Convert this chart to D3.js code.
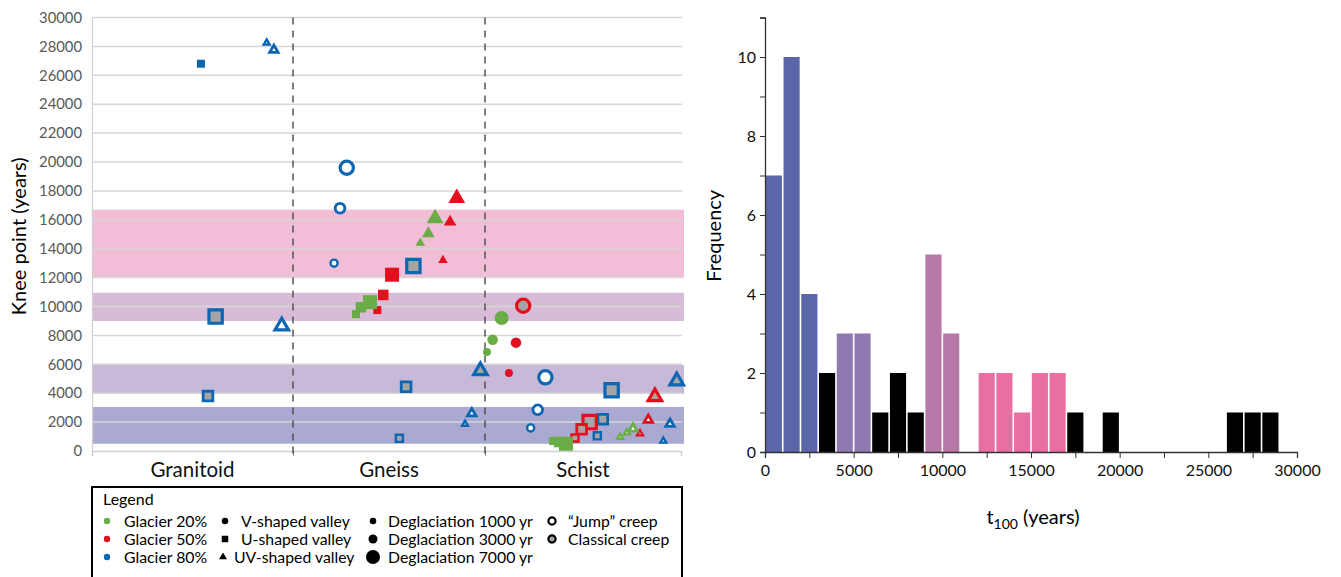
<!DOCTYPE html>
<html>
<head>
<meta charset="utf-8">
<script src="https://cdn.jsdelivr.net/npm/d3@7/dist/d3.min.js"></script>
<style>
  html, body { margin: 0; padding: 0; background: #fff; }
  svg { display: block; font-family: Lato, "Open Sans", sans-serif; }
</style>
</head>
<body>
<svg id="fig" width="1341" height="577"></svg>
<script>
// ---------- Knee-point scatter (left panel) ----------
const rockTypes = ["Granitoid", "Gneiss", "Schist"];
const kneeTicks = d3.range(0, 30001, 2000);

// Reference t100 ranges shaded behind the scatter: [from, to, class]
const t100Bands = [
  [12000, 16700, "c4"],
  [9000, 10950, "c3"],
  [3950, 5950, "c2"],
  [500, 3050, "c1"]
];

// Each run: [position along rock axis, knee point (yr), glacier %, valley, deglaciation (yr), creep]
const granitoidRuns = [
  [0.542, 26800, 80, "U", 1000, "none"],
  [0.869, 28250, 80, "UV", 1000, "jump"],
  [0.905, 27750, 80, "UV", 3000, "jump"],
  [0.615, 9300, 80, "U", 7000, "classical"],
  [0.577, 3800, 80, "U", 3000, "classical"],
  [0.944, 8650, 80, "UV", 7000, "jump"]
];
const gneissRuns = [
  [1.280, 19600, 80, "V", 7000, "jump"],
  [1.245, 16800, 80, "V", 3000, "jump"],
  [1.214, 13000, 80, "V", 1000, "jump"],
  [1.627, 12800, 80, "U", 7000, "classical"],
  [1.516, 12200, 50, "U", 7000, "none"],
  [1.470, 10800, 50, "U", 3000, "none"],
  [1.439, 9750, 50, "U", 1000, "none"],
  [1.401, 10300, 20, "U", 7000, "none"],
  [1.354, 9950, 20, "U", 3000, "none"],
  [1.328, 9470, 20, "U", 1000, "none"],
  [1.740, 16100, 20, "UV", 7000, "none"],
  [1.705, 15050, 20, "UV", 3000, "none"],
  [1.663, 14400, 20, "UV", 1000, "none"],
  [1.853, 17500, 50, "UV", 7000, "none"],
  [1.818, 15850, 50, "UV", 3000, "none"],
  [1.781, 13200, 50, "UV", 1000, "none"],
  [1.589, 4450, 80, "U", 3000, "classical"],
  [1.554, 880, 80, "U", 1000, "classical"],
  [1.976, 5550, 80, "UV", 7000, "classical"],
  [1.931, 2600, 80, "UV", 3000, "jump"],
  [1.896, 1870, 80, "UV", 1000, "jump"]
];
const schistRuns = [
  [2.195, 10050, 50, "V", 7000, "classical"],
  [2.085, 9200, 20, "V", 7000, "none"],
  [2.039, 7700, 20, "V", 3000, "none"],
  [2.010, 6850, 20, "V", 1000, "none"],
  [2.158, 7500, 50, "V", 3000, "none"],
  [2.122, 5400, 50, "V", 1000, "none"],
  [2.308, 5100, 80, "V", 7000, "jump"],
  [2.269, 2850, 80, "V", 3000, "jump"],
  [2.233, 1600, 80, "V", 1000, "jump"],
  [2.646, 4200, 80, "U", 7000, "classical"],
  [2.601, 2200, 80, "U", 3000, "classical"],
  [2.573, 1050, 80, "U", 1000, "classical"],
  [2.534, 2000, 50, "U", 7000, "classical"],
  [2.493, 1500, 50, "U", 3000, "classical"],
  [2.459, 900, 50, "U", 1000, "classical"],
  [2.413, 500, 20, "U", 7000, "none"],
  [2.378, 620, 20, "U", 3000, "none"],
  [2.347, 690, 20, "U", 1000, "none"],
  [2.867, 3750, 50, "UV", 7000, "classical"],
  [2.833, 2150, 50, "UV", 3000, "jump"],
  [2.791, 1200, 50, "UV", 1000, "jump"],
  [2.755, 1550, 20, "UV", 3000, "jump"],
  [2.724, 1270, 20, "UV", 1000, "jump"],
  [2.689, 970, 20, "UV", 1000, "jump"],
  [2.978, 4850, 80, "UV", 7000, "classical"],
  [2.944, 1870, 80, "UV", 3000, "jump"],
  [2.910, 700, 80, "UV", 1000, "jump"]
];

// ---------- t100 histogram (right panel) ----------
const binStarts = d3.range(0, 29000, 1000);
const binCounts = [7, 10, 4, 2, 3, 3, 1, 2, 1, 5, 3, 0, 2, 2, 1, 2, 2, 1, 0, 1, 0, 0, 0, 0, 0, 0, 1, 1, 1];
const binClass  = ["c1","c1","c1","k","c2","c2","k","k","k","c3","c3","k","c4","c4","c4","c4","c4","k","k","k","k","k","k","k","k","k","k","k","k"];
const freqTicks = d3.range(0, 12, 1);
const t100Ticks = d3.range(0, 30001, 2500);

// ---------- styling ----------
const glacierColor = { 20: "#6aac46", 50: "#e30f1f", 80: "#0d66b2" };
const bandFill = { c1: "#aaa9d1", c2: "#c7b9d8", c3: "#d7bbd7", c4: "#f2bdd6" };
const barFill = { c1: "#5b65a9", c2: "#8e79b0", c3: "#b778a7", c4: "#e96ea1", k: "#000000" };
const solidSize = { 1000: 8, 3000: 10.5, 7000: 14 };
const ringSize = { 1000: 9.5, 3000: 12.5, 7000: 16.5 };
const symbolType = { V: d3.symbolCircle, U: d3.symbolSquare, UV: d3.symbolTriangle };

function symbolArea(valley, w) {
  if (valley === "V") return Math.PI * w * w / 4;
  if (valley === "U") return w * w;
  return Math.sqrt(3) * w * w / 4;
}

const svg = d3.select("#fig");

// ---- left scatter ----
const xL = d3.scaleLinear().domain([0, 1, 2, 3]).range([92, 293, 485, 681]);
const yL = d3.scaleLinear().domain([0, 30000]).range([451, 17.5]);
const left = svg.append("g");

left.selectAll("rect.band").data(t100Bands).join("rect")
  .attr("class", "band")
  .attr("x", xL(0)).attr("width", xL(3) + 3 - xL(0))
  .attr("y", d => yL(d[1])).attr("height", d => yL(d[0]) - yL(d[1]))
  .attr("fill", d => bandFill[d[2]]);

left.selectAll("line.grid").data(kneeTicks.slice(1)).join("line")
  .attr("class", "grid")
  .attr("x1", xL(0)).attr("x2", xL(3) + 1)
  .attr("y1", d => yL(d)).attr("y2", d => yL(d))
  .attr("stroke", "#d6d6d6").attr("stroke-width", 1.5);

// y axis labels
const yAxisL = d3.axisLeft(yL).tickValues(kneeTicks).tickSize(0).tickPadding(10).tickFormat(d3.format("d"));
const gyL = left.append("g").attr("transform", `translate(${xL(0)},0)`).call(yAxisL);
gyL.select(".domain").attr("stroke", "#d0d0d0").attr("stroke-width", 1.2);
gyL.selectAll("text").attr("font-size", 14.8).attr("fill", "#595959").attr("font-family", "Lato");

// category axis
const xAxisL = d3.axisBottom(xL).tickValues([1, 2]).tickSize(5).tickFormat("");
const gxL = left.append("g").attr("transform", `translate(0,${yL(0)})`).call(xAxisL);
gxL.select(".domain").attr("stroke", "#d0d0d0").attr("stroke-width", 1.5);
gxL.selectAll(".tick line").attr("stroke", "#8c8c8c");

left.selectAll("text.cat").data(rockTypes).join("text")
  .attr("class", "cat")
  .attr("x", (d, i) => (xL(i) + xL(i + 1)) / 2)
  .attr("y", 477)
  .attr("text-anchor", "middle")
  .attr("font-size", 20.5).attr("fill", "#111")
  .text(d => d);

// rock-type dividers
left.selectAll("line.div").data([1, 2]).join("line")
  .attr("class", "div")
  .attr("x1", d => xL(d)).attr("x2", d => xL(d))
  .attr("y1", yL(30000)).attr("y2", yL(0) + 3)
  .attr("stroke", "#4a4a4a").attr("stroke-width", 1.4)
  .attr("stroke-dasharray", "7,6");

left.append("text")
  .attr("transform", `translate(26,${(yL(0) + yL(30000)) / 2 + 2}) rotate(-90)`)
  .attr("text-anchor", "middle")
  .attr("font-size", 20).attr("fill", "#000")
  .text("Knee point (years)");

// markers
const runs = granitoidRuns.concat(gneissRuns, schistRuns);
function drawMarker(g, valley, deglac, creep, color) {
  if (creep === "none") {
    const w = solidSize[deglac] * (valley === "UV" ? 1.2 : 1);
    g.append("path")
      .attr("d", d3.symbol(symbolType[valley], symbolArea(valley, w))())
      .attr("fill", color);
  } else {
    const outer = ringSize[deglac] * (valley === "UV" ? 1.15 : 1);
    const sw = deglac === 7000 ? 3.2 : deglac === 3000 ? 2.8 : 2.4;
    const inner = valley === "UV" ? outer - sw * (deglac === 7000 ? 1.7 : 2.1) : outer - sw;
    g.append("path")
      .attr("d", d3.symbol(symbolType[valley], symbolArea(valley, inner))())
      .attr("fill", creep === "jump" ? "#ffffff" : "#a5a5a5")
      .attr("stroke", color).attr("stroke-width", sw)
      .attr("stroke-linejoin", "miter");
  }
}
const marks = left.append("g");
runs.forEach(r => {
  const g = marks.append("g").attr("transform", `translate(${xL(r[0])},${yL(r[1])})`);
  drawMarker(g, r[3], r[4], r[5], glacierColor[r[2]]);
});

// legend
const legend = svg.append("g");
legend.append("rect")
  .attr("x", 92).attr("y", 487).attr("width", 590).attr("height", 120)
  .attr("fill", "#fff").attr("stroke", "#000").attr("stroke-width", 2);
legend.append("text").attr("x", 103).attr("y", 505).attr("font-size", 16).text("Legend");

const rowY = [521, 539, 557];
const glacierItems = [20, 50, 80];
glacierItems.forEach((p, i) => {
  legend.append("circle").attr("cx", 107).attr("cy", rowY[i]).attr("r", 3.2).attr("fill", glacierColor[p]);
  legend.append("text").attr("x", 124).attr("y", rowY[i] + 5.5).attr("font-size", 15.8).text(`Glacier ${p}%`);
});
const valleyItems = [["V", "V-shaped valley", 225, 241], ["U", "U-shaped valley", 225, 241], ["UV", "UV-shaped valley", 223, 234]];
valleyItems.forEach((v, i) => {
  const w = v[0] === "UV" ? 8 : 6.5;
  legend.append("path")
    .attr("transform", `translate(${v[2]},${rowY[i]})`)
    .attr("d", d3.symbol(symbolType[v[0]], symbolArea(v[0], w))())
    .attr("fill", "#000");
  legend.append("text").attr("x", v[3]).attr("y", rowY[i] + 5.5).attr("font-size", 15.8).text(v[1]);
});
const deglacItems = [[1000, 6.5], [3000, 9], [7000, 14]];
deglacItems.forEach((d, i) => {
  legend.append("circle").attr("cx", 373).attr("cy", rowY[i]).attr("r", d[1] / 2).attr("fill", "#000");
  legend.append("text").attr("x", 388).attr("y", rowY[i] + 5.5).attr("font-size", 15.8).text(`Deglaciation ${d[0]} yr`);
});
const creepItems = [["#ffffff", "\u201CJump\u201D creep"], ["#a5a5a5", "Classical creep"]];
creepItems.forEach((c, i) => {
  legend.append("circle").attr("cx", 552).attr("cy", rowY[i]).attr("r", 3.6)
    .attr("fill", c[0]).attr("stroke", "#000").attr("stroke-width", 2.2);
  legend.append("text").attr("x", 568).attr("y", rowY[i] + 5.5).attr("font-size", 15.8).text(c[1]);
});

// ---- right histogram ----
const xR = d3.scaleLinear().domain([0, 30000]).range([765, 1297]);
const yR = d3.scaleLinear().domain([0, 11]).range([452, 17.5]);
const right = svg.append("g");

right.selectAll("rect.bar").data(binStarts.filter((d, i) => binCounts[i] > 0)).join("rect")
  .attr("class", "bar")
  .attr("x", d => xR(d) + 0.8)
  .attr("width", d => xR(d + 1000) - xR(d) - 1.6)
  .attr("y", d => yR(binCounts[binStarts.indexOf(d)]))
  .attr("height", d => yR(0) - yR(binCounts[binStarts.indexOf(d)]))
  .attr("fill", d => barFill[binClass[binStarts.indexOf(d)]]);

const yAxisR = d3.axisLeft(yR).tickValues(freqTicks).tickSize(5).tickPadding(4)
  .tickFormat(d => (d % 2 === 0 ? d : ""));
const gyR = right.append("g").attr("transform", `translate(${xR(0)},0)`).call(yAxisR);
gyR.select(".domain").attr("stroke", "#333").attr("stroke-width", 1.3);
gyR.selectAll(".tick line").attr("stroke", "#333");
gyR.selectAll("text").attr("font-size", 16).attr("fill", "#111").attr("font-family", "Lato");

const xAxisR = d3.axisBottom(xR).tickValues(t100Ticks).tickSize(6).tickPadding(7)
  .tickFormat(d => (d % 5000 === 0 ? d : ""));
const gxR = right.append("g").attr("transform", `translate(0,${yR(0)})`).call(xAxisR);
gxR.select(".domain").attr("stroke", "#333").attr("stroke-width", 1.3);
gxR.selectAll(".tick line").attr("stroke", "#333");
gxR.selectAll("text").attr("font-size", 16).attr("fill", "#111").attr("font-family", "Lato");

right.append("text")
  .attr("transform", `translate(721,${(yR(0) + yR(11)) / 2 + 1}) rotate(-90)`)
  .attr("text-anchor", "middle")
  .attr("font-size", 20).attr("fill", "#000")
  .text("Frequency");

const xt = right.append("text")
  .attr("x", (xR(0) + xR(30000)) / 2 + 2)
  .attr("y", 524)
  .attr("text-anchor", "middle")
  .attr("font-size", 20).attr("fill", "#000");
xt.append("tspan").text("t");
xt.append("tspan").attr("font-size", 14).attr("dy", 5).text("100");
xt.append("tspan").attr("dy", -5).text(" (years)");
</script>
</body>
</html>
